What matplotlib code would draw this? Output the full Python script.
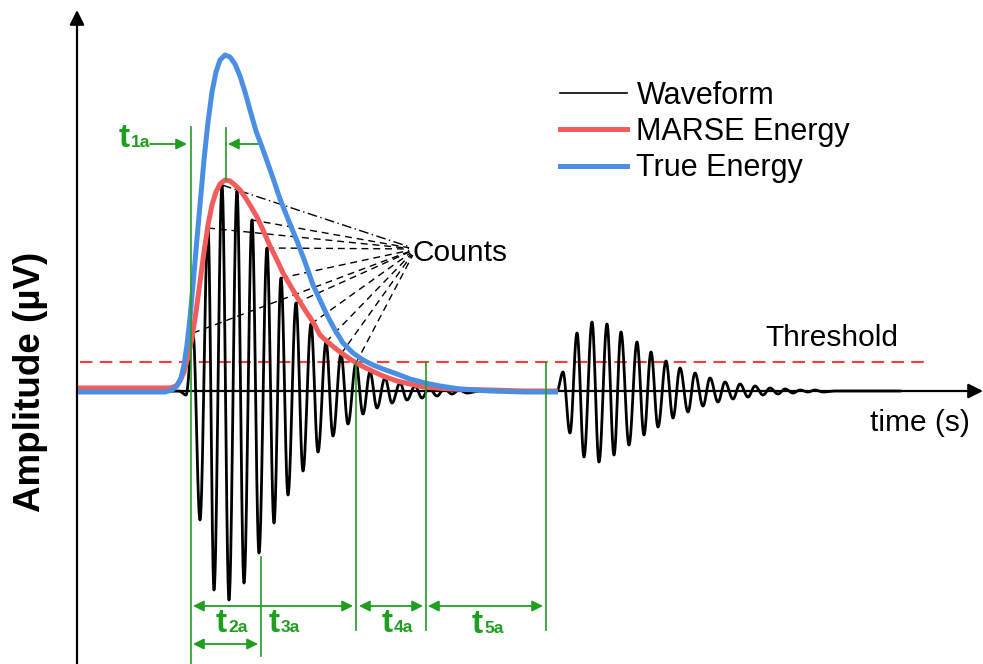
import numpy as np
import matplotlib
matplotlib.use("Agg")
import matplotlib.pyplot as plt
from matplotlib.lines import Line2D

plt.rcParams['font.family'] = ['Liberation Sans', 'DejaVu Sans']

# ---------------- data (time: arbitrary units, amplitude: arbitrary µV units) -------------
b1_peak_t = [193, 208, 222, 237, 252, 267, 281, 296, 311, 326, 341, 356, 370, 385, 400, 415, 429, 444, 459]
b1_peak_a = [58, 163, 206, 200, 171, 143, 113, 88, 67, 49, 37, 28, 19, 13, 8, 5, 3, 2, 1]
b1_trough_t = [186, 200, 214, 229, 244, 259, 274, 288, 303, 318, 333, 348, 363, 377, 392, 407, 422, 437, 452, 467]
b1_trough_a = [-4, -129, -199, -209, -192, -162, -132, -104, -80, -61, -45, -33, -23, -17, -12, -9, -7, -5, -3, -2]
b1_start, b1_end = 179, 480

b2_peak_t = [563, 577, 592, 607, 621, 637, 651, 666, 680, 695, 710, 725, 740, 755, 770, 785, 800, 815]
b2_peak_a = [19, 58, 69, 67, 59, 49, 39, 30, 23, 18, 13, 9, 7, 5, 3, 2, 1, 1]
b2_trough_t = [570, 584, 599, 614, 629, 644, 658, 673, 688, 703, 718, 733, 748, 763, 778, 793, 808, 823]
b2_trough_a = [-42, -66, -71, -64, -54, -44, -36, -27, -21, -15, -11, -8, -6, -4, -3, -2, -1, -1]
b2_start, b2_end = 557, 835

blue_t = [78, 165, 172, 177, 181, 184, 187, 190, 193, 196, 200, 204, 208, 212, 216, 220, 225, 230, 235,
          240, 245, 250, 256, 262, 267, 274, 280, 288, 297, 305, 313, 320, 327, 335, 343, 353, 363, 373,
          383, 397, 410, 425, 440, 460, 490, 525, 558]
blue_a = [-1, -1, 1, 5, 13, 26, 46, 73, 106, 141, 186, 231, 269, 299, 319, 331, 336, 334, 327,
          315, 299, 281, 260, 244, 230, 210, 192, 172, 150, 129, 106, 91, 76, 61, 48, 38, 31, 26,
          22, 17, 12, 8, 5, 2, 0, -1, -1]

red_t = [78, 170, 176, 180, 184, 188, 192, 196, 200, 204, 208, 212, 216, 220, 225, 230, 235, 240, 245,
         250, 257, 263, 270, 277, 283, 290, 297, 305, 313, 320, 330, 340, 350, 360, 370, 383, 397, 410,
         423, 450, 490, 525, 558]
red_a = [3, 3, 5, 10, 19, 34, 53, 79, 109, 139, 166, 186, 199, 207, 211, 210, 206, 201, 194,
         186, 174, 161, 145, 131, 118, 106, 94, 81, 69, 56, 47, 39, 32, 26, 21, 15, 10, 7,
         4, 2, 1, 0, 0]

threshold = 29
count_peaks = [193, 208, 222, 252, 267, 281, 296, 311, 326, 341, 356]

green = '#1f9e1f'
red = '#f25c5c'
blue = '#4a8fe3'


def burst(t0, t1, pt, pa, tt, ta):
    ext = sorted(list(zip(pt, pa)) + list(zip(tt, ta)))
    ext = [(t0, 0.0)] + ext + [(t1, 0.0)]
    xs, ys = [], []
    s = np.linspace(0, 1, 30)
    for (xa, ya), (xb, yb) in zip(ext[:-1], ext[1:]):
        xs.append(xa + (xb - xa) * s)
        ys.append(ya + (yb - ya) * (1 - np.cos(np.pi * s)) / 2)
    return np.concatenate(xs), np.concatenate(ys)


x1, y1 = burst(b1_start, b1_end, b1_peak_t, b1_peak_a, b1_trough_t, b1_trough_a)
x2, y2 = burst(b2_start, b2_end, b2_peak_t, b2_peak_a, b2_trough_t, b2_trough_a)
wx = np.concatenate([[80], x1, x2, [900]])
wy = np.concatenate([[0], y1, y2, [0]])

fig = plt.figure(figsize=(9.83, 6.64), dpi=100)
ax = fig.add_axes([0, 0, 1, 1])
ax.set_xlim(0, 983)
ax.set_ylim(-273, 391)
ax.axis('off')

# axes with arrows
ax.annotate('', xy=(77, 381), xytext=(77, -273),
            arrowprops=dict(arrowstyle='-|>', color='black', lw=1.6, mutation_scale=22,
                            shrinkA=0, shrinkB=0))
ax.annotate('', xy=(983, 0), xytext=(77, 0),
            arrowprops=dict(arrowstyle='-|>', color='black', lw=1.6, mutation_scale=22,
                            shrinkA=0, shrinkB=0))

# waveform and energies
ax.plot(wx, wy, color='black', lw=2.0, zorder=3)
ax.plot(red_t, red_a, color=red, lw=3.6, zorder=4, solid_capstyle='butt')
ax.plot(blue_t, blue_a, color=blue, lw=3.6, zorder=5, solid_capstyle='butt')

# threshold
ax.plot([80, 930], [threshold, threshold], color='#ff3b3b', lw=1.5, dashes=(6, 3.5), zorder=2)

# counts lines
peak_lookup = dict(zip(b1_peak_t, b1_peak_a))
F = np.array([416.0, 142.0])
for i, pt in enumerate(count_peaks):
    p = np.array([pt, peak_lookup[pt]], dtype=float)
    d = F - p
    L = np.hypot(*d)
    e = p + d * (L - 7) / L
    ls = dict(dashes=(7, 2.5, 1, 2.5)) if pt == 222 else dict(dashes=(5, 3.5))
    ax.plot([p[0], e[0]], [p[1], e[1]], color='black', lw=1.0, zorder=2, **ls)

# green markers
gkw = dict(color=green, lw=1.2, zorder=6)
ax.plot([191, 191], [264, -273], **gkw)
ax.plot([226, 226], [263, 211], **gkw)
ax.plot([261, 261], [-166, -265], **gkw)
for xm in [356, 426, 546]:
    ax.plot([xm, xm], [threshold, -239], **gkw)

akw = dict(color=green, lw=1.3, mutation_scale=16, shrinkA=0, shrinkB=0)
ax.annotate('', xy=(187, 247), xytext=(150, 247), arrowprops=dict(arrowstyle='-|>', **akw))
ax.annotate('', xy=(228, 247), xytext=(258, 247), arrowprops=dict(arrowstyle='-|>', **akw))
for (xa, xb, yy) in [(193, 353, -215), (359, 423, -215), (428, 543, -215), (193, 258, -253)]:
    ax.annotate('', xy=(xb, yy), xytext=(xa, yy), arrowprops=dict(arrowstyle='<|-|>', **akw))


def tlabel(x, y, sub):
    ax.text(x, y, 't', color=green, fontsize=24, fontweight='bold', va='baseline', ha='left')
    ax.text(x + 12, y, sub, color=green, fontsize=12.5, fontweight='bold', va='baseline', ha='left')


tlabel(119, 244, '1a')
tlabel(216, -241, '2a')
tlabel(269, -241, '3a')
tlabel(382, -241, '4a')
tlabel(472, -242, '5a')

# texts
ax.text(412, 138, 'Counts', fontsize=21.5, va='center', ha='left')
ax.text(765, 53, 'Threshold', fontsize=21.5, va='center', ha='left')
ax.text(870, -32, 'time (s)', fontsize=21.5, va='center', ha='left')
ax.text(31, 9, 'Amplitude (µV)', fontsize=26.5, fontweight='bold', rotation=90,
        va='center', ha='center')

handles = [Line2D([], [], color='black', lw=1.2),
           Line2D([], [], color=red, lw=3.6),
           Line2D([], [], color=blue, lw=3.6)]
ax.legend(handles, ['Waveform', 'MARSE Energy', 'True Energy'], loc='upper left',
          bbox_to_anchor=(560 / 983, 1 - 81 / 664), frameon=False, fontsize=22,
          handlelength=2.2, handletextpad=0.3, labelspacing=0.2, borderpad=0, borderaxespad=0)

fig.savefig('out.png', dpi=100)
